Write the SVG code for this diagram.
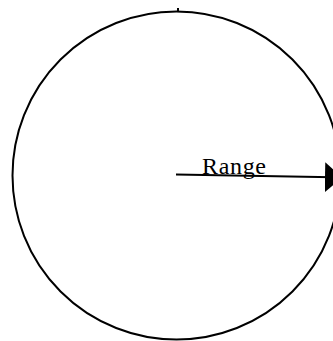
<svg xmlns="http://www.w3.org/2000/svg" width="333" height="341" viewBox="0 0 333 341">
<style>
.shape{fill:none;stroke:#000;stroke-width:2}
.lbl{font-family:"Liberation Serif","Times New Roman",serif;font-size:24px;fill:#000}
</style>
<defs>
<marker id="ah" markerUnits="userSpaceOnUse" markerWidth="20" markerHeight="32" refX="17" refY="15" orient="auto">
<path d="M0,0 L17,15 L0,30 Z" fill="#000"/>
</marker>
</defs>
<g id="range-circle">
<circle class="shape" cx="176.5" cy="175.5" r="164"/>
<line x1="178" y1="8" x2="178" y2="12" stroke="#000" stroke-width="2"/>
</g>
<g id="connectors">
<line x1="176" y1="174.5" x2="342" y2="177.5" stroke="#000" stroke-width="2" marker-end="url(#ah)"/>
</g>
<g id="label">
<text class="lbl" x="202" y="173.5" textLength="64" lengthAdjust="spacing">Range</text>
</g>
</svg>
